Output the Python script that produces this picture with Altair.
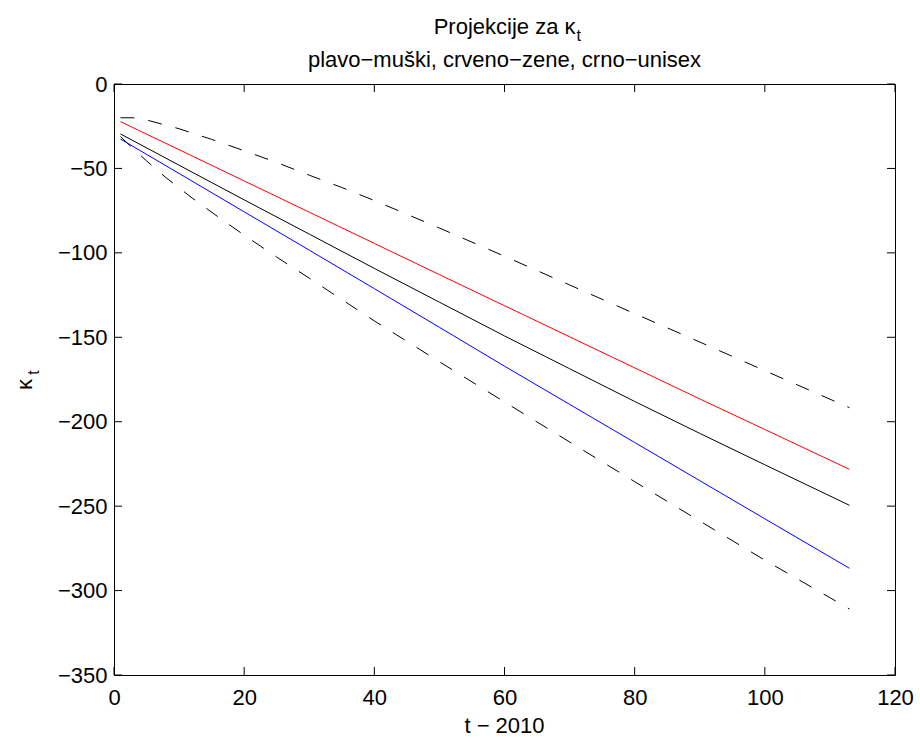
import altair as alt
import pandas as pd

# ---- data ----
t_solid = [1, 10, 20, 30, 40, 50, 60, 70, 80, 90, 100, 113]
kappa_women = [-22.3, -38.9, -57.4, -75.9, -94.4, -112.9, -131.3, -149.7, -168.1, -186.5, -204.6, -228.2]
kappa_unisex = [-29.6, -48.1, -68.6, -88.9, -109.2, -129.2, -149.2, -168.6, -188.0, -206.9, -225.5, -249.5]
kappa_men = [-32.6, -53.0, -75.7, -98.4, -121.2, -144.1, -167.1, -189.7, -212.3, -234.9, -257.5, -286.8]

t_upper = [1, 3, 5, 10, 15, 20, 25, 30, 35, 40, 50, 60, 70, 80, 90, 100, 105, 113]
upper_bound = [-20.0, -20.0, -21.3, -26.5, -32.8, -39.5, -46.5, -54.0, -61.3, -69.0, -85.3, -102.0,
               -119.0, -136.0, -152.8, -169.8, -178.2, -191.7]
t_lower = [1, 3, 5, 8, 12, 16, 20, 25, 30, 40, 50, 60, 70, 80, 90, 100, 110, 113]
lower_bound = [-31.2, -38.5, -45.5, -55.5, -67.5, -78.7, -89.5, -102.5, -115.0, -140.3, -164.5, -188.3,
               -212.0, -235.5, -258.8, -282.0, -304.2, -310.9]

x_ticks = [0, 20, 40, 60, 80, 100, 120]
y_ticks = [0, -50, -100, -150, -200, -250, -300, -350]

title_line1 = "Projekcije za κ"
title_sub = "t"
title_line2 = "plavo−muški, crveno−zene, crno−unisex"
x_title = "t − 2010"
y_title = "κ"

# ---- layout ----
W, H = 781, 591
FONT = "Liberation Sans"
FS = 22

xscale = alt.Scale(domain=[0, 120], nice=False, zero=False)
yscale = alt.Scale(domain=[-350, 0], nice=False, zero=False)
xaxis = alt.Axis(values=x_ticks, title=None, grid=False, domain=False, ticks=False, tickSize=0,
                 labelPadding=12, labelFont=FONT, labelFontSize=FS, labelColor="black",
                 labelFlush=False, labelOverlap=False)
yaxis = alt.Axis(values=y_ticks, title=None, grid=False, domain=False, ticks=False, tickSize=0,
                 labelPadding=7, labelFont=FONT, labelFontSize=FS, labelColor="black",
                 labelFlush=False, labelOverlap=False)


def X():
    return alt.X("x:Q", scale=xscale, axis=xaxis)


def Y():
    return alt.Y("y:Q", scale=yscale, axis=yaxis)


def line(ts, vals, color, dash=None):
    df = pd.DataFrame({"x": ts, "y": vals})
    kw = dict(color=color, strokeWidth=1)
    if dash:
        kw["strokeDash"] = dash
    return alt.Chart(df).mark_line(**kw).encode(x=X(), y=Y())


layers = [
    line(t_upper, upper_bound, "black", [14, 14]),
    line(t_lower, lower_bound, "black", [14, 14]),
    line(t_solid, kappa_unisex, "black"),
    line(t_solid, kappa_women, "#ff0000"),
    line(t_solid, kappa_men, "#0000ff"),
]

# inward ticks on all four sides
dfx = pd.DataFrame({"x": x_ticks})
dfy = pd.DataFrame({"y": y_ticks})
TL = 8
layers += [
    alt.Chart(dfx).mark_rule(color="black", strokeWidth=1).encode(x=X(), y=alt.value(H), y2=alt.value(H - TL)),
    alt.Chart(dfx).mark_rule(color="black", strokeWidth=1).encode(x=X(), y=alt.value(0), y2=alt.value(TL)),
    alt.Chart(dfy).mark_rule(color="black", strokeWidth=1).encode(y=Y(), x=alt.value(0), x2=alt.value(TL)),
    alt.Chart(dfy).mark_rule(color="black", strokeWidth=1).encode(y=Y(), x=alt.value(W), x2=alt.value(W - TL)),
]

one = pd.DataFrame({"a": [0]})


def label(text, x, y, size=FS, align="center", angle=0, baseline="alphabetic"):
    kw = dict(font=FONT, fontSize=size, color="black", align=align, baseline=baseline)
    if angle:
        kw["angle"] = angle
    return alt.Chart(one).mark_text(**kw).encode(x=alt.value(x), y=alt.value(y), text=alt.value(text))


cx = W / 2
layers += [
    label(title_line1, cx + 71, -50, align="right"),
    label(title_sub, cx + 72, -43, size=16, align="left"),
    label(title_line2, cx, -17),
    label(x_title, cx, 649),
    label(y_title, -89, H / 2 + 5, angle=270, baseline="middle"),
    label("t", -80, H / 2 - 7, size=16, angle=270, baseline="middle"),
]

chart = alt.layer(*layers).properties(
    width=W, height=H,
    autosize=alt.AutoSizeParams(type="none"),
    padding={"left": 114, "top": 84, "right": 25, "bottom": 67},
    background="white",
).configure_view(stroke="black", strokeWidth=1)

chart.save("out.html", embed_options={"renderer": "svg", "actions": False})
